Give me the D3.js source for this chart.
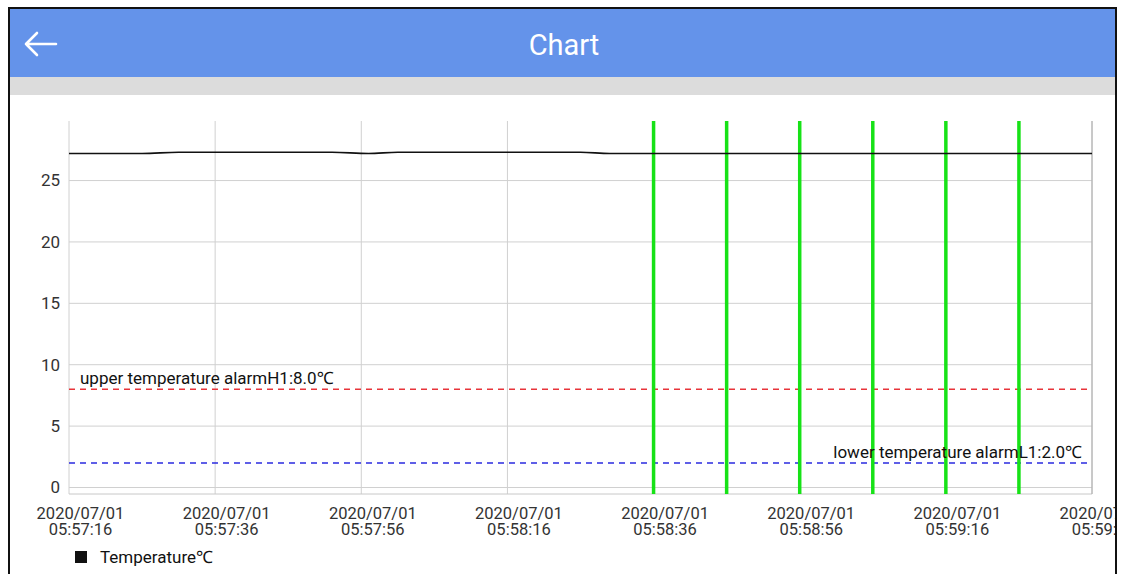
<!DOCTYPE html>
<html>
<head>
<meta charset="utf-8">
<script src="https://cdn.jsdelivr.net/npm/d3@7"></script>
<style>
  body { margin: 0; background: #fff; }
  svg { display: block; font-family: Roboto, "Noto Sans", sans-serif; }
</style>
</head>
<body>
<div id="chart"></div>
<script>
// temperature readings (time, value)
const times = ['05:57:16', '05:57:26', '05:57:31', '05:57:52', '05:57:57', '05:58:01', '05:58:16', '05:58:26', '05:58:30', '05:58:46', '05:59:06', '05:59:36'];
const temps = [27.2, 27.2, 27.3, 27.3, 27.2, 27.3, 27.3, 27.3, 27.2, 27.2, 27.2, 27.2];
// alarm markers (green bars)
const markerTimes = ['05:58:36', '05:58:46', '05:58:56', '05:59:06', '05:59:16', '05:59:26'];
// x tick labels
const xTicks = ['05:57:16', '05:57:36', '05:57:56', '05:58:16', '05:58:36', '05:58:56', '05:59:16', '05:59:36'];
const yTicks = [0, 5, 10, 15, 20, 25];
const upperAlarm = 8.0;
const lowerAlarm = 2.0;
const day = '2020/07/01';

const W = 1123, H = 574;
const margin = { top: 121, right: 31, bottom: 80, left: 69 };
const parse = d3.timeParse('%Y/%m/%d %H:%M:%S');
const t = s => parse(day + ' ' + s);

const svg = d3.select('#chart')
  .append('svg')
  .attr('width', W)
  .attr('height', H);

// clip everything to the phone frame
svg.append('defs').append('clipPath').attr('id', 'frame')
  .append('rect').attr('x', 10).attr('y', 9).attr('width', 1105).attr('height', 570);

// app frame
svg.append('rect').attr('x', 9).attr('y', 8).attr('width', 1107).attr('height', 580)
  .attr('fill', '#fff').attr('stroke', '#111').attr('stroke-width', 2);

const root = svg.append('g').attr('clip-path', 'url(#frame)');

root.append('rect').attr('x', 10).attr('y', 9).attr('width', 1105).attr('height', 68).attr('fill', '#6493ea');
root.append('rect').attr('x', 10).attr('y', 77).attr('width', 1105).attr('height', 18).attr('fill', '#dcdcdc');
root.append('text').attr('x', 564).attr('y', 55).attr('text-anchor', 'middle')
  .style('fill', '#fff').style('font-size', '29px').text('Chart');
// back arrow
root.append('path').attr('d', 'M26,44 L56,44 M37,33 L26,44 L37,55')
  .attr('fill', 'none').attr('stroke', '#fff').attr('stroke-width', 2.6)
  .attr('stroke-linecap', 'round').attr('stroke-linejoin', 'round');

const x = d3.scaleTime()
  .domain([t(xTicks[0]), t(xTicks[xTicks.length - 1])])
  .range([margin.left, W - margin.right]);
const y = d3.scaleLinear()
  .domain([-0.53, 29.85])
  .range([H - margin.bottom, margin.top]);

const g = root.append('g');

// grid
g.selectAll('.hgrid').data(yTicks).enter().append('line')
  .attr('x1', margin.left).attr('x2', W - margin.right)
  .attr('y1', d => y(d)).attr('y2', d => y(d))
  .attr('stroke', '#d0d0d0').attr('stroke-width', 1);
g.selectAll('.vgrid').data(xTicks).enter().append('line')
  .attr('x1', d => x(t(d))).attr('x2', d => x(t(d)))
  .attr('y1', margin.top).attr('y2', H - margin.bottom)
  .attr('stroke', '#d0d0d0').attr('stroke-width', 1);
g.append('line')
  .attr('x1', margin.left).attr('x2', W - margin.right)
  .attr('y1', H - margin.bottom).attr('y2', H - margin.bottom)
  .attr('stroke', '#c8c8c8');
g.append('line')
  .attr('x1', W - margin.right).attr('x2', W - margin.right)
  .attr('y1', margin.top).attr('y2', H - margin.bottom)
  .attr('stroke', '#aaa');

// y axis labels
g.selectAll('.ylab').data(yTicks).enter().append('text')
  .attr('x', 60).attr('y', d => y(d)).attr('dy', '0.35em')
  .attr('text-anchor', 'end')
  .style('font-size', '17px').style('fill', '#333')
  .text(d => d);

// x axis labels (two lines, sit a little right of the grid line)
const labelShift = 11.5;
g.selectAll('.xdate').data(xTicks).enter().append('text')
  .attr('x', d => x(t(d)) + labelShift).attr('y', 519)
  .attr('text-anchor', 'middle')
  .style('font-size', '16.5px').style('fill', '#333')
  .text(day);
g.selectAll('.xtime').data(xTicks).enter().append('text')
  .attr('x', d => x(t(d)) + labelShift).attr('y', 535)
  .attr('text-anchor', 'middle')
  .style('font-size', '16.5px').style('fill', '#333')
  .text(d => d);

// alarm lines
g.append('line')
  .attr('x1', margin.left).attr('x2', W - margin.right)
  .attr('y1', y(upperAlarm)).attr('y2', y(upperAlarm))
  .attr('stroke', '#e8343a').attr('stroke-width', 1.6).attr('stroke-dasharray', '6,5');
g.append('line')
  .attr('x1', margin.left).attr('x2', W - margin.right)
  .attr('y1', y(lowerAlarm)).attr('y2', y(lowerAlarm))
  .attr('stroke', '#2b2be0').attr('stroke-width', 1.6).attr('stroke-dasharray', '6,5');

// green markers
g.selectAll('.marker').data(markerTimes).enter().append('line')
  .attr('x1', d => x(t(d))).attr('x2', d => x(t(d)))
  .attr('y1', margin.top).attr('y2', H - margin.bottom)
  .attr('stroke', '#17e217').attr('stroke-width', 3.5);

g.append('text').attr('x', 80).attr('y', y(upperAlarm) - 5)
  .style('font-size', '17px').style('fill', '#111')
  .text('upper temperature alarmH1:' + upperAlarm.toFixed(1) + '℃');
g.append('text').attr('x', W - margin.right - 10).attr('y', y(lowerAlarm) - 5)
  .attr('text-anchor', 'end')
  .style('font-size', '17px').style('fill', '#111')
  .text('lower temperature alarmL1:' + lowerAlarm.toFixed(1) + '℃');

// temperature line
const line = d3.line()
  .x((d, i) => x(t(times[i])))
  .y(d => y(d))
  .curve(d3.curveMonotoneX);
g.append('path').datum(temps)
  .attr('d', line)
  .attr('fill', 'none').attr('stroke', '#111').attr('stroke-width', 1.6);

// legend
root.append('rect').attr('x', 75).attr('y', 551).attr('width', 12).attr('height', 12).attr('fill', '#111');
root.append('text').attr('x', 100).attr('y', 563)
  .style('font-size', '17px').style('fill', '#111').text('Temperature℃');
</script>
</body>
</html>
